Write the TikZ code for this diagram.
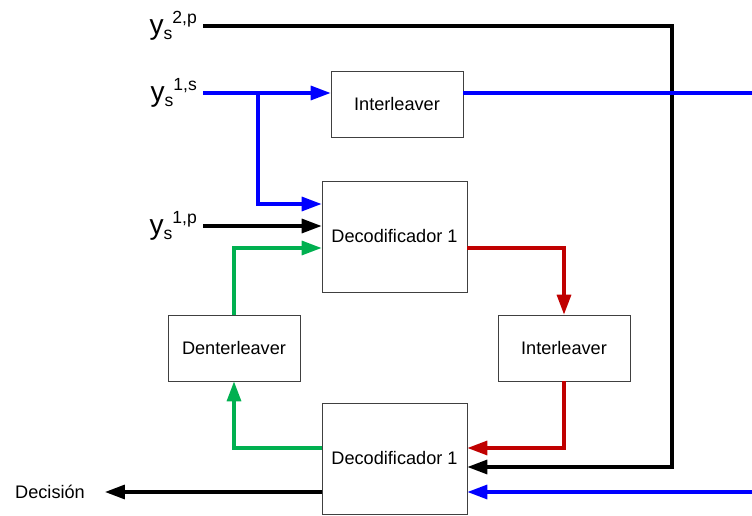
\documentclass[tikz,border=0pt]{standalone}
\usepackage{fontspec}
\setmainfont{Liberation Sans}
\usetikzlibrary{arrows.meta, calc, positioning}

\definecolor{sigblue}{RGB}{0,0,255}
\definecolor{siggreen}{RGB}{0,176,80}
\definecolor{sigred}{RGB}{192,0,0}

% received sequence label y_s^{...}
\newcommand{\ylbl}[1]{{\fontsize{24}{24}\selectfont y}{\fontsize{15}{15}\selectfont\raisebox{-4pt}{s}\raisebox{9pt}{#1}}}

\tikzset{
    box/.style={draw=black!75, line width=0.7pt, minimum width=3.96cm, minimum height=1.98cm,
        inner sep=0pt, font=\fontsize{15.5}{18}\selectfont},
    decbox/.style={box, minimum width=4.35cm, minimum height=3.33cm},
    sig/.style={line width=2.6pt, -{Triangle[length=17pt,width=12pt]}},
    wire/.style={line width=2.6pt},
    lbl/.style={inner ysep=0pt, inner xsep=5pt, anchor=east}
}

\begin{document}
    \begin{tikzpicture}[x=0.03cm, y=-0.03cm]
        \useasboundingbox (0,0) rectangle (752,516);
        % Blocks
        \node[box] (int1) at (397,104) {Interleaver};
        \node[decbox] (dec1) at (394.5,236.5) {Decodificador 1};
        \node[box] (dent) at (234,348) {Denterleaver};
        \node[box] (int2) at (564,348) {Interleaver};
        \node[decbox] (dec2) at (394.5,458.5) {Decodificador 1};
        % Inputs and output
        \node[lbl] (y2p) at (203,26) {\ylbl{2,p}};
        \node[lbl] (y1s) at (203,93) {\ylbl{1,s}};
        \node[lbl] (y1p) at (203,226) {\ylbl{1,p}};
        \node[lbl, inner xsep=17pt, font=\fontsize{15.5}{18}\selectfont] (dcs) at (105,492) {Decisión};
        \coordinate (c2p) at (672,26);
        \coordinate (jn) at (258,93);
        \coordinate (bout) at (752,93);
        \coordinate (bin) at (752,492);
        % Parity of second encoder
        \draw[sig] (y2p.east) -- (c2p) -- (c2p |- 0,467) -- ($(dec2.east)+(0,8.5)$);
        % Systematic part
        \draw[sig, sigblue] (y1s.east) -- ($(int1.west)+(0,-11)$);
        \draw[wire, sigblue] (int1.east |- jn) -- (bout);
        \draw[sig, sigblue] (jn) |- ($(dec1.west)+(0,-32.5)$);
        \draw[sig, sigblue] (bin) -- ($(dec2.east)+(0,33.5)$);
        \draw[sig] (y1p.east) -- ($(dec1.west)+(0,-10.5)$);
        % Feedback loop
        \draw[sig, sigred] ($(dec1.east)+(0,11.5)$) -| (int2.north);
        \draw[sig, sigred] (int2.south) |- ($(dec2.east)+(0,-10.5)$);
        \draw[sig, siggreen] ($(dec2.west)+(0,-10.5)$) -| (dent.south);
        \draw[sig, siggreen] (dent.north) |- ($(dec1.west)+(0,11.5)$);
        \draw[sig] ($(dec2.west)+(0,33.5)$) -- (dcs.east);
    \end{tikzpicture}
\end{document}
